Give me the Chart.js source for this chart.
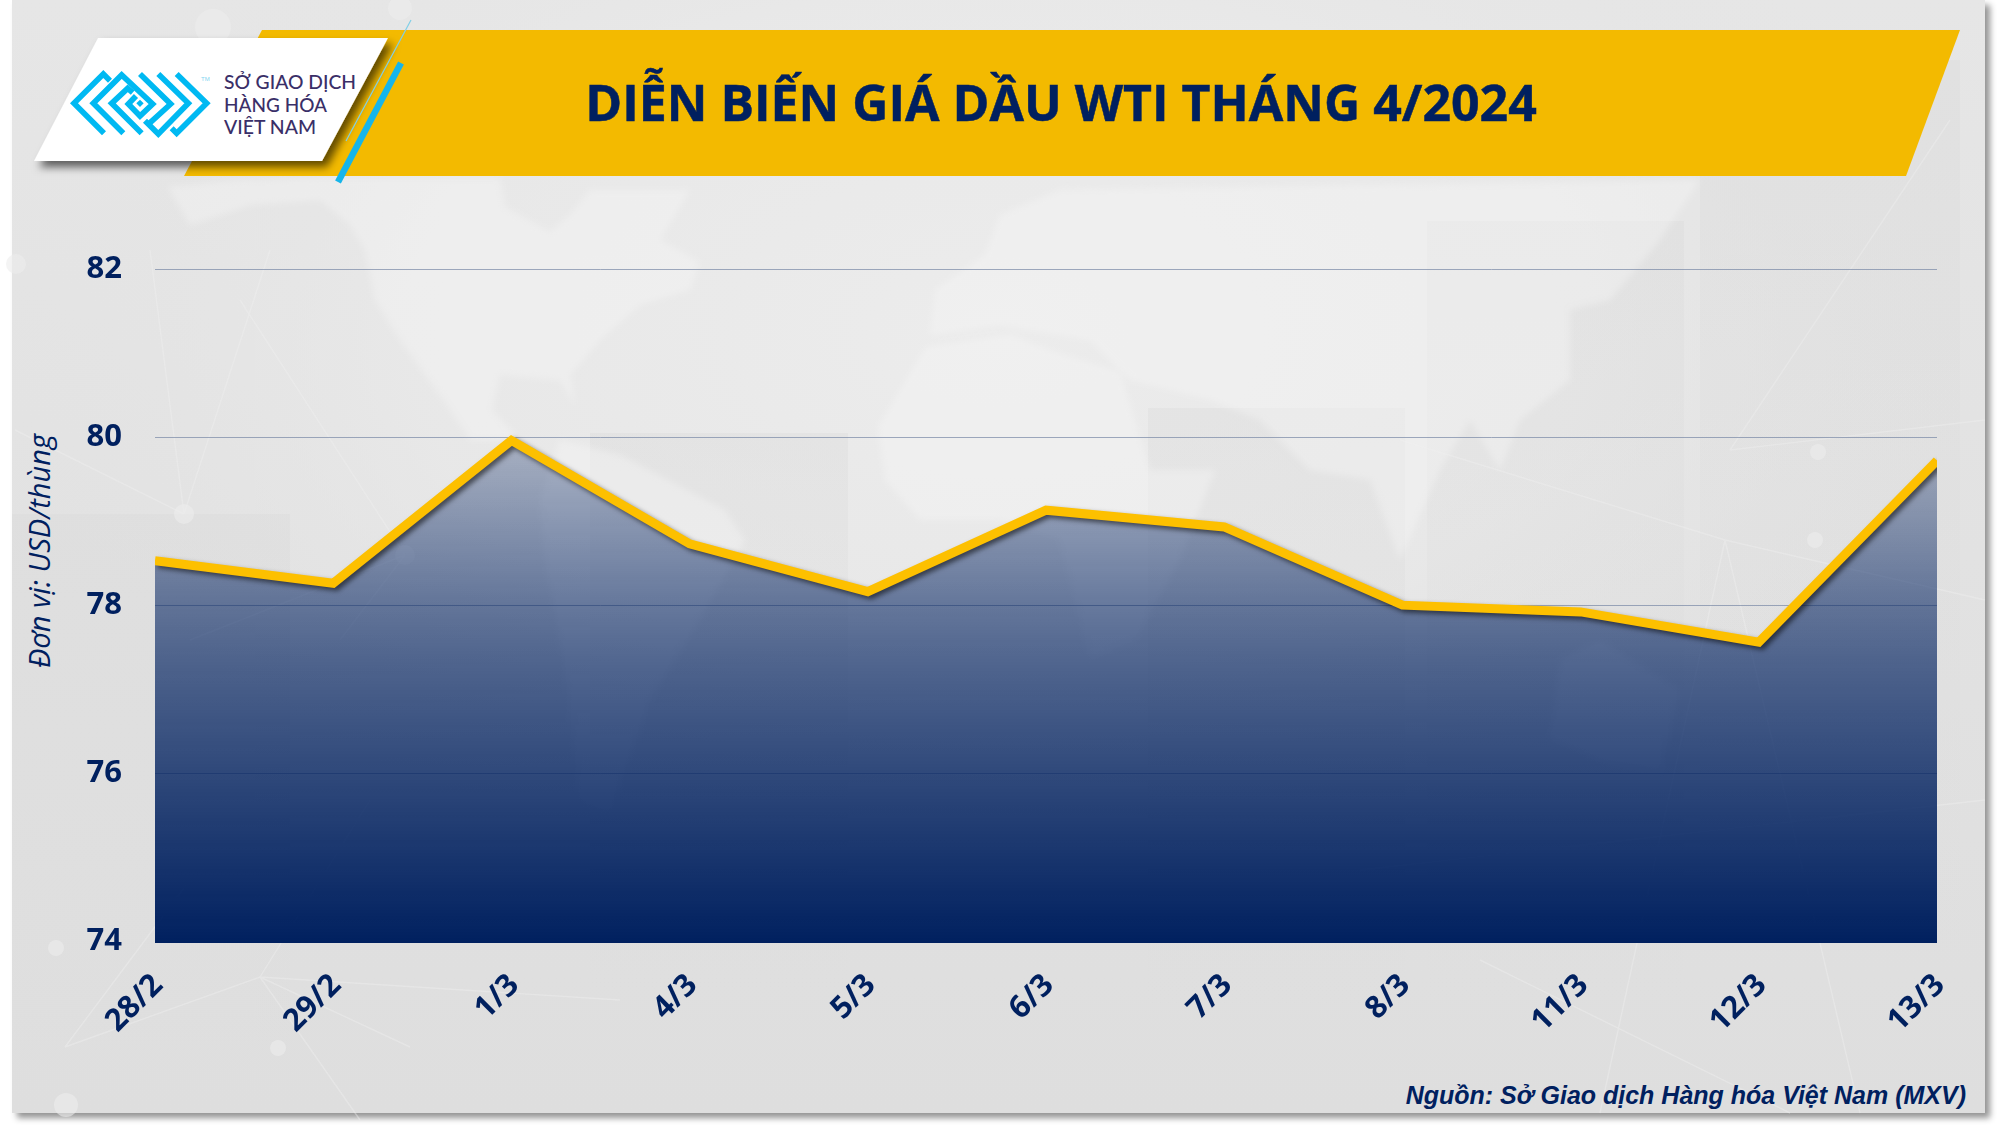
<!DOCTYPE html>
<html><head><meta charset="utf-8">
<style>
html,body{margin:0;padding:0;background:#fff;width:2000px;height:1125px;overflow:hidden}
#bg,#wrap{position:absolute;left:0;top:0;width:2000px;height:1125px}
</style>
<script src="https://cdn.jsdelivr.net/npm/chart.js@4"></script>
</head><body>
<svg id="bg" viewBox="0 0 2000 1125" xmlns="http://www.w3.org/2000/svg">
<defs>
<linearGradient id="cardG" x1="0" y1="0" x2="0" y2="1">
<stop offset="0" stop-color="#e6e6e6"/><stop offset="1" stop-color="#dedede"/></linearGradient>
<radialGradient id="glow" cx="0.5" cy="0.3" r="0.5">
<stop offset="0" stop-color="#ececec"/><stop offset="0.6" stop-color="#e9e9e9" stop-opacity=".8"/><stop offset="1" stop-color="#e4e4e4" stop-opacity="0"/></radialGradient>
<linearGradient id="rectG" x1="0" y1="0" x2="0" y2="1">
<stop offset="0" stop-color="#d6d6d6" stop-opacity=".3"/><stop offset="1" stop-color="#d6d6d6" stop-opacity="0"/></linearGradient>
<filter id="cardS" x="-3%" y="-3%" width="106%" height="106%"><feDropShadow dx="5" dy="5" stdDeviation="3" flood-color="#000" flood-opacity=".42"/></filter>
<filter id="logoS" x="-20%" y="-20%" width="140%" height="150%"><feDropShadow dx="5" dy="6" stdDeviation="4" flood-color="#000" flood-opacity=".6"/></filter>
<filter id="soft"><feGaussianBlur stdDeviation="3"/></filter>
</defs>
<rect x="12" y="0" width="1973" height="1113" fill="url(#cardG)" filter="url(#cardS)"/>
<rect x="12" y="0" width="1973" height="1113" fill="url(#glow)"/>
<g fill="url(#rectG)">
<rect x="12" y="514" width="278" height="540"/><rect x="590" y="433" width="258" height="560"/>
<rect x="1148" y="408" width="257" height="600"/><rect x="1427" y="221" width="257" height="780"/>
<rect x="1700" y="60" width="260" height="900"/>
</g>
<g fill="#f6f6f6" fill-opacity=".38" filter="url(#soft)">
<path d="M168 187L240 180 330 178 500 178 505 207 550 232 570 215 590 190 690 190 660 240 700 262 690 290 640 305 600 340 570 375 575 405 560 380 500 375 492 410 520 440 470 440 440 395 400 340 375 300 365 250 350 225 320 200 250 205 190 225Z"/>
<path d="M560 440L620 455 725 510 745 540 700 620 650 700 610 810 580 800 565 670 545 560 540 500Z"/>
<path d="M878 427L926 347 1010 335 1055 352 1120 372 1150 470 1215 470 1180 560 1135 640 1090 660 1060 540 1000 520 920 520 885 480Z"/>
<path d="M930 335L935 290 985 255 1000 215 1060 190 1700 180 1660 240 1610 300 1570 310 1570 380 1520 420 1500 470 1470 420 1440 470 1400 560 1370 480 1310 470 1260 420 1210 400 1130 380 1090 340 1000 325Z"/>
<path d="M1560 660L1600 640 1680 690 1660 770 1600 760 1550 740Z"/>
</g>
<g stroke="#efefef" stroke-width="1.4" fill="none" stroke-opacity=".4">
<path d="M184 514L150 250M184 514L15 430M184 514L270 250M405 555L240 300M405 555L190 640M340 640L405 555M65 1047L260 977 410 1047M65 1047L190 880M260 977L370 800M260 977L360 1120M260 977L620 1000M1730 450L1950 120M1730 450L1985 420M1725 540L1400 440M1725 540L1860 1113M1725 540L1600 1113M1725 540L1985 600M1480 960L1790 1113M1360 870L1985 800"/>
</g>
<g fill="#ececec" fill-opacity=".6"><circle cx="184" cy="514" r="10"/><circle cx="405" cy="555" r="10"/><circle cx="56" cy="948" r="8"/><circle cx="278" cy="1048" r="8"/><circle cx="66" cy="1105" r="12"/><circle cx="213" cy="27" r="18"/><circle cx="400" cy="8" r="12"/><circle cx="1818" cy="452" r="8"/><circle cx="1815" cy="540" r="8"/><circle cx="16" cy="264" r="10"/></g>
<!-- banner -->
<path d="M262 30H1960L1906 176H184Z" fill="#f3ba00"/>
<path d="M98 38H388L322 161H34Z" fill="#fff" filter="url(#logoS)"/>
<path d="M411 20L346 141" stroke="#7fcfe8" stroke-width="1.2"/>
<path d="M401 63L338 182" stroke="#16b5ea" stroke-width="6.5"/>
<g transform="translate(60 60) scale(.3333)" fill="none" stroke="#00b9f2" stroke-width="17" stroke-linejoin="miter">
<path d="M150 62L130 42 42 130 132 220"/>
<path d="M190 220L100 130 185 45 278 132 240 168 205 132 228 108"/>
<path d="M245 220L155 130 203 85 218 98"/>
<path d="M240 42L332 132 268 190"/>
<path d="M295 42L385 130 295 222 255 182"/>
<path d="M350 42L440 130 350 220 335 205"/>
<path d="M240 119L251 130 240 141 229 130Z" fill="#00b9f2" stroke="none"/>
</g>
<text x="201" y="81" font-family="Liberation Sans" font-size="6" fill="#7fd5f0">TM</text>
<g font-family="Lato" font-size="20" fill="#3a2f68" font-weight="500">
<text x="224" y="89" textLength="132" lengthAdjust="spacingAndGlyphs">SỞ GIAO DỊCH</text>
<text x="224" y="112" textLength="103" lengthAdjust="spacingAndGlyphs">HÀNG HÓA</text>
<text x="224" y="134" textLength="92" lengthAdjust="spacingAndGlyphs">VIỆT NAM</text>
</g>
<text id="chartTitle" x="1061" y="121" text-anchor="middle" font-family="Open Sans" font-weight="700" font-size="50" fill="#00205f" stroke="#00205f" stroke-width=".5">DIỄN BIẾN GIÁ DẦU WTI THÁNG 4/2024</text>
<text transform="translate(50 551) rotate(-90)" text-anchor="middle" font-family="Open Sans" font-style="italic" font-size="29" fill="#00205f">Đơn vị: USD/thùng</text>
<text x="1966" y="1104" text-anchor="end" font-family="Liberation Sans" font-style="italic" font-weight="700" font-size="25" fill="#00205f">Nguồn: Sở Giao dịch Hàng hóa Việt Nam (MXV)</text>
</svg>
<div id="wrap"><canvas id="c" width="2000" height="1125"></canvas></div>
<script>
const categories = ["28/2","29/2","1/3","4/3","5/3","6/3","7/3","8/3","11/3","12/3","13/3"];
const wtiPrices = [78.53,78.26,79.96,78.73,78.16,79.13,78.93,78.0,77.92,77.56,79.72];
const yTicks = [74,76,78,80,82];
const NAVY = "#00205f";

function areaGradient(ctx){
  const chart = ctx.chart, y = chart.scales.y;
  if(!chart.chartArea || !y) return "rgba(0,32,95,.5)";
  const top = y.getPixelForValue(80), bottom = chart.chartArea.bottom;
  const g = chart.ctx.createLinearGradient(0, top, 0, bottom);
  const h = bottom - top;
  const stop = (py, a) => g.addColorStop(Math.min(1, Math.max(0, (py - top) / h)), "rgba(0,32,95," + a + ")");
  stop(top, .27); stop(top + 168, .57); stop(top + 223, .65); stop(top + 443, .92); stop(bottom, 1);
  return g;
}
const lineShadow = {
  id: "lineShadow",
  beforeDatasetDraw(chart){
    const c = chart.ctx; c.save();
    c.shadowColor = "rgba(0,0,0,.55)"; c.shadowBlur = 5; c.shadowOffsetX = 3; c.shadowOffsetY = 3;
  },
  afterDatasetDraw(chart){ chart.ctx.restore(); }
};
new Chart(document.getElementById("c"), {
  type: "line",
  data: { labels: categories, datasets: [{
    data: wtiPrices, borderColor: "#fdc000", borderWidth: 9, pointRadius: 0,
    tension: 0, fill: "start", backgroundColor: areaGradient, borderJoinStyle: "miter", clip: 0
  }]},
  plugins: [lineShadow],
  options: {
    responsive: false, animation: false,
    layout: { padding: { left: 0, right: 63, top: 269, bottom: 0 } },
    plugins: { legend: { display: false }, tooltip: { enabled: false } },
    scales: {
      x: {
        offset: false, border: { display: false }, grid: { display: false },
        afterFit(s){ s.height = 182; },
        ticks: { maxRotation: 45, minRotation: 45, autoSkip: false, padding: 16, labelOffset: 3, color: NAVY,
                 font: { family: "Open Sans", weight: "700", size: 31 } }
      },
      y: {
        min: 73.98, max: 82,
        afterBuildTicks(s){ s.ticks = yTicks.map(v => ({ value: v })); },
        afterFit(s){ s.width = 155; },
        border: { display: false },
        grid: { color: "rgba(120,135,165,.7)", lineWidth: 1, drawTicks: false },
        ticks: { padding: 33, color: NAVY, font: { family: "Open Sans", weight: "700", size: 31 } }
      }
    }
  }
});
</script>
</body></html>
